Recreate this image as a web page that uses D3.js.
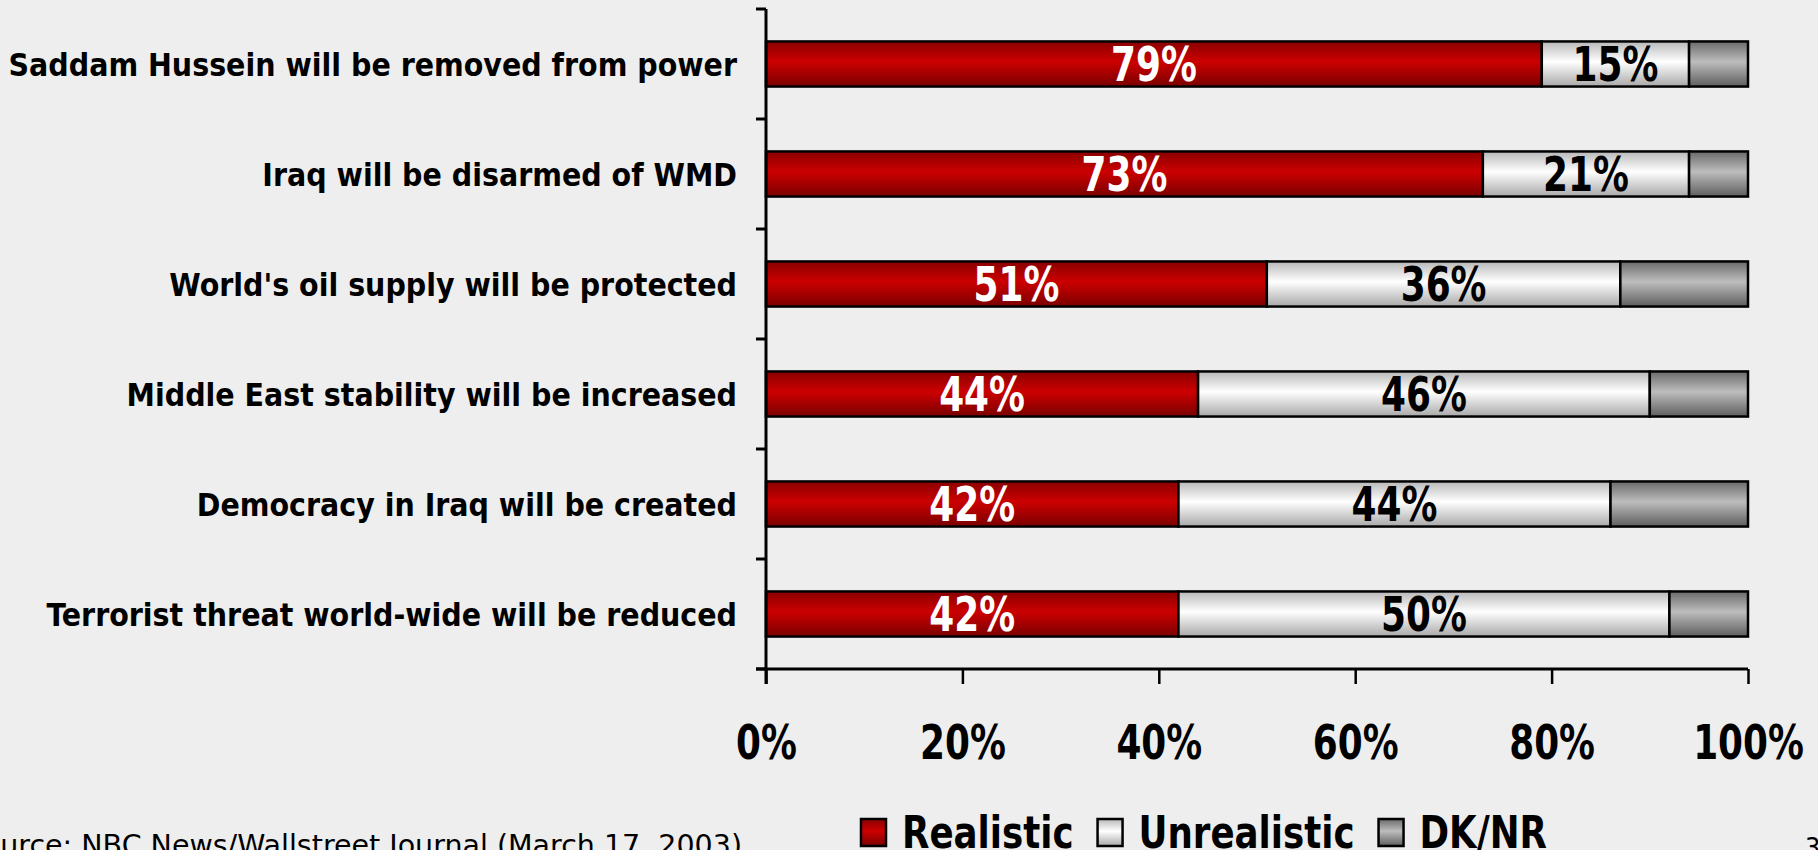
<!DOCTYPE html>
<html>
<head>
<meta charset="utf-8">
<script src="https://cdn.jsdelivr.net/npm/d3@7"></script>
<style>
  body { margin: 0; background: #eeeeee; overflow: hidden; }
  svg { display: block; }
  .cond { font-family: "DejaVu Sans Condensed", "DejaVu Sans", sans-serif; font-stretch: condensed; font-weight: bold; }
</style>
</head>
<body>
<div id="chart"></div>
<script>
var categories = [
  "Saddam Hussein will be removed from power",
  "Iraq will be disarmed of WMD",
  "World's oil supply will be protected",
  "Middle East stability will be increased",
  "Democracy in Iraq will be created",
  "Terrorist threat world-wide will be reduced"
];
var realistic = [79, 73, 51, 44, 42, 42];
var unrealistic = [15, 21, 36, 46, 44, 50];
var dknr = [6, 6, 13, 10, 14, 8];
var seriesNames = ["Realistic", "Unrealistic", "DK/NR"];
var xTicks = [0, 20, 40, 60, 80, 100];
var sourceText = "Source: NBC News/Wallstreet Journal (March 17, 2003)";
var pageNumber = "3";

var W = 1818, H = 850;
var margin = { top: 9, left: 766, right: 70, bottom: 181 };
var innerW = W - margin.left - margin.right,
    innerH = H - margin.top - margin.bottom;
var sx = 0.83; // horizontal squeeze for the condensed bold numbers

var rows = categories.map(function (c, i) {
  return { cat: c, Realistic: realistic[i], Unrealistic: unrealistic[i], "DK/NR": dknr[i] };
});
var stack = d3.stack().keys(seriesNames)(rows);

var svg = d3.select("#chart").append("svg").attr("width", W).attr("height", H);
svg.append("rect").attr("width", W).attr("height", H).attr("fill", "#eeeeee");

// gradients for the bar look
var defs = svg.append("defs");
var grads = {
  "Realistic": ["#8a0000", "#cc0000", "#7a0000"],
  "Unrealistic": ["#b8b8b8", "#ffffff", "#a8a8a8"],
  "DK/NR": ["#6a6a6a", "#bdbdbd", "#5e5e5e"]
};
seriesNames.forEach(function (k, i) {
  var g = defs.append("linearGradient").attr("id", "g" + i).attr("x1", 0).attr("x2", 0).attr("y1", 0).attr("y2", 1);
  g.append("stop").attr("offset", "0%").attr("stop-color", grads[k][0]);
  g.append("stop").attr("offset", "45%").attr("stop-color", grads[k][1]);
  g.append("stop").attr("offset", "100%").attr("stop-color", grads[k][2]);
});

var x = d3.scaleLinear().domain([0, 100]).range([0, innerW]);
var y = d3.scaleBand().domain(categories).range([0, innerH]).paddingInner(0.59).paddingOuter(0.295);

var plot = svg.append("g").attr("transform", "translate(" + margin.left + "," + margin.top + ")");

// bars
var layers = plot.selectAll(".layer").data(stack).enter().append("g").attr("class", "layer")
  .attr("fill", function (d, i) { return "url(#g" + i + ")"; });
layers.selectAll("rect").data(function (d) { return d; }).enter().append("rect")
  .attr("x", function (d) { return x(d[0]); })
  .attr("y", function (d) { return y(d.data.cat); })
  .attr("width", function (d) { return x(d[1]) - x(d[0]); })
  .attr("height", y.bandwidth())
  .attr("stroke", "#000").attr("stroke-width", 2.5);

// value labels (not for DK/NR)
stack.slice(0, 2).forEach(function (layer, li) {
  plot.selectAll(".lbl" + li).data(layer).enter().append("text")
    .attr("class", "cond lbl" + li)
    .attr("transform", function (d) {
      return "translate(" + x((d[0] + d[1]) / 2) + "," + (y(d.data.cat) + y.bandwidth() / 2 + 17) + ") scale(" + sx + ",1)";
    })
    .attr("text-anchor", "middle")
    .attr("font-size", 48)
    .attr("fill", li === 0 ? "#ffffff" : "#000000")
    .text(function (d) { return (d[1] - d[0]) + "%"; });
});

// y axis: line, ticks at band boundaries, category labels
plot.append("line").attr("x1", 0).attr("x2", 0).attr("y1", 0).attr("y2", innerH + 15)
  .attr("stroke", "#000").attr("stroke-width", 3);
var bounds = d3.range(categories.length + 1).map(function (i) { return i * y.step(); });
plot.selectAll(".ytick").data(bounds).enter().append("line")
  .attr("x1", -10).attr("x2", 0)
  .attr("y1", function (d) { return d; }).attr("y2", function (d) { return d; })
  .attr("stroke", "#000").attr("stroke-width", 3);
plot.selectAll(".cat").data(categories).enter().append("text")
  .attr("class", "cond cat")
  .attr("x", -29)
  .attr("y", function (d) { return y(d) + y.bandwidth() / 2 + 12; })
  .attr("text-anchor", "end")
  .attr("font-size", 31.7)
  .attr("fill", "#000")
  .text(function (d) { return d; });

// x axis
var xAxis = d3.axisBottom(x).tickValues(xTicks).tickSize(15).tickFormat(function (d) { return d + "%"; });
var xg = plot.append("g").attr("transform", "translate(0," + innerH + ")").call(xAxis);
xg.select(".domain").attr("stroke", "#000").attr("stroke-width", 3).attr("d", "M-10,0H" + innerW);
xg.selectAll(".tick line").attr("stroke", "#000").attr("stroke-width", 2.5);
xg.selectAll(".tick text").attr("class", "cond").attr("font-size", 48).attr("fill", "#000")
  .attr("y", 0).attr("dy", 0)
  .attr("transform", "translate(0,90) scale(" + sx + ",1)");

// legend
var legend = svg.append("g").attr("transform", "translate(859,0)");
var lx = 0;
seriesNames.forEach(function (k, i) {
  legend.append("rect").attr("x", lx + 2).attr("y", 819).attr("width", 25).attr("height", 27)
    .attr("fill", "url(#g" + i + ")").attr("stroke", "#000").attr("stroke-width", 2.5);
  var t = legend.append("text").attr("class", "cond").attr("font-size", 44).attr("fill", "#000")
    .attr("transform", "translate(" + (lx + 43) + ",848) scale(0.9,1)")
    .text(k);
  lx += 43 + t.node().getComputedTextLength() * 0.9 + 22;
});

// source and page number
svg.append("text").attr("x", 742).attr("y", 855).attr("text-anchor", "end")
  .attr("font-family", "DejaVu Sans, sans-serif").attr("font-size", 28.5)
  .attr("fill", "#000").text(sourceText);
svg.append("text").attr("x", 1805).attr("y", 857)
  .attr("font-family", "DejaVu Sans Condensed, DejaVu Sans, sans-serif").attr("font-size", 27)
  .attr("fill", "#000").text(pageNumber);
</script>
</body>
</html>
